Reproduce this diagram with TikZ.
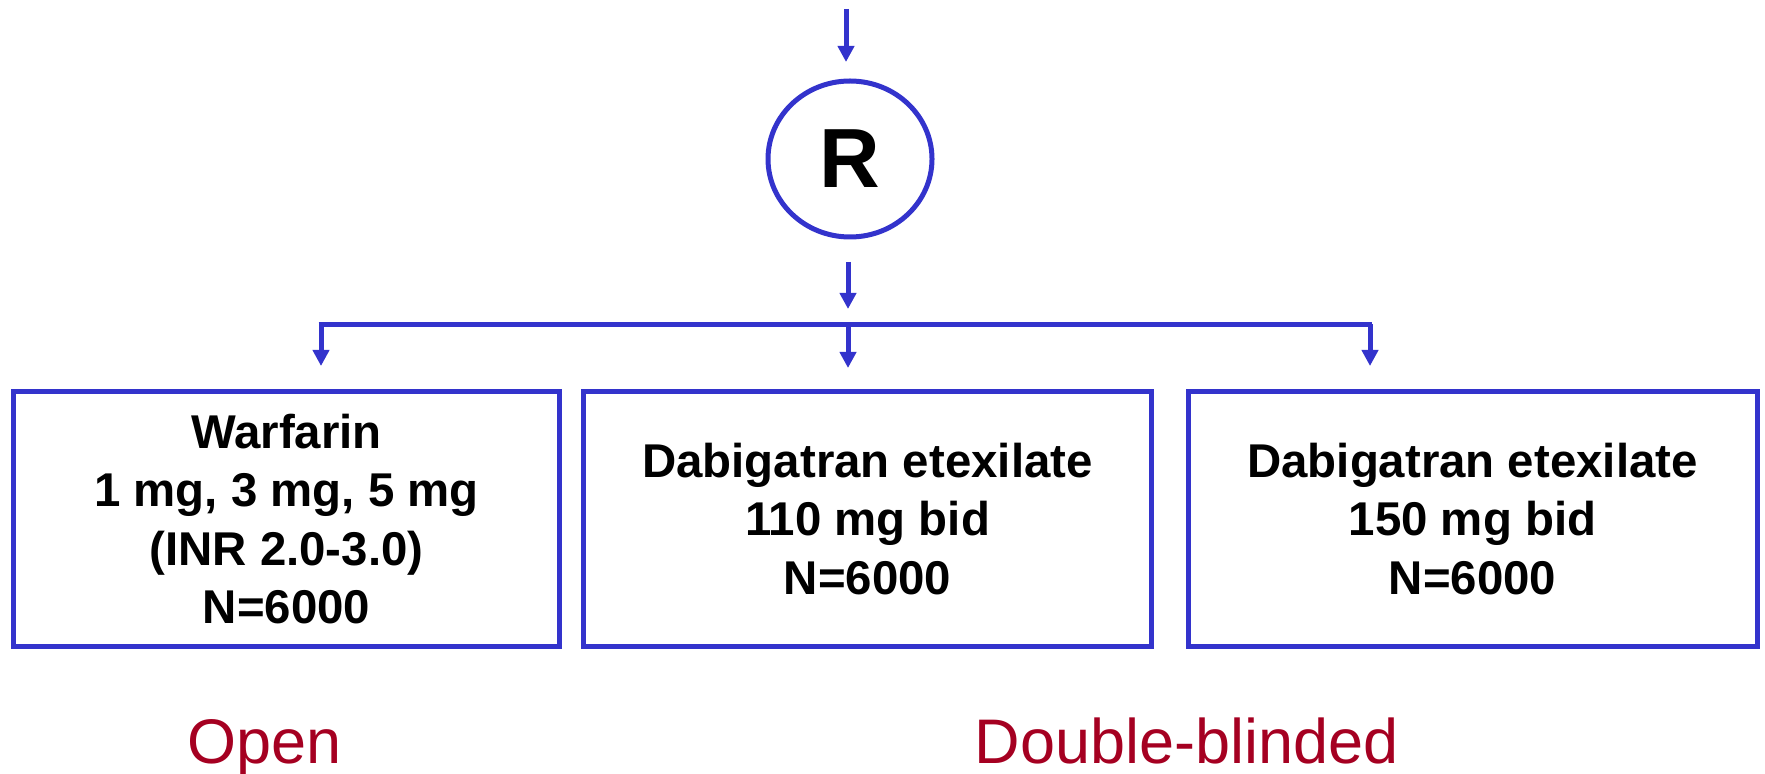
\documentclass[tikz,border=0pt]{standalone}
\usepackage{fontspec}
\setmainfont{Liberation Sans}
\usetikzlibrary{arrows.meta,shapes.geometric}
\definecolor{flowblue}{RGB}{51,51,204}
\definecolor{labelred}{RGB}{165,0,33}
\begin{document}
\begin{tikzpicture}[x=0.5pt,y=-0.5pt,
  armbox/.style={draw=flowblue,line width=2.5pt,rectangle,inner sep=0pt,outer sep=0pt,
    minimum height=127pt,align=center,font=\fontsize{23.7}{29.2}\selectfont\bfseries},
  arr/.style={draw=flowblue,line width=2.5pt,-{Triangle[width=8pt,length=8pt]}},
  bar/.style={draw=flowblue,line width=2.6pt},
  rand/.style={draw=flowblue,line width=2.5pt,ellipse,inner sep=0pt,
    minimum width=82pt,minimum height=78pt,font=\fontsize{42}{42}\selectfont\bfseries},
  tag/.style={text=labelred,anchor=base,inner sep=0pt,font=\fontsize{31.5}{31.5}\selectfont}
]
\useasboundingbox (0,0) rectangle (1765,774);
% randomisation
\node[rand] (R) at (850,159) {R};
\coordinate (in1) at (846,9);
\coordinate (in2) at (846,62);
\draw[arr] (in1) -- (in2);
\coordinate (out1) at (848,262);
\coordinate (out2) at (848,309);
\draw[arr] (out1) -- (out2);
% splitter
\coordinate (sL) at (321,324.5);
\coordinate (sM) at (848,324.5);
\coordinate (sR) at (1370,324.5);
\draw[bar] ([xshift=-1.2pt]sL) -- ([xshift=1.2pt]sR);
\coordinate (tL) at (321,366);
\coordinate (tM) at (848,368);
\coordinate (tR) at (1370,366);
\draw[arr] (sL) -- (tL);
\draw[arr] (sM) -- (tM);
\draw[arr] (sR) -- (tR);
% arms
\node[armbox,minimum width=273pt] (warf) at (286.5,519)
  {Warfarin\\1 mg, 3 mg, 5 mg\\(INR 2.0-3.0)\\N=6000};
\node[armbox,minimum width=284pt] (dab110) at (867.5,519)
  {Dabigatran etexilate\\110 mg bid\\N=6000};
\node[armbox,minimum width=284.5pt] (dab150) at (1472.5,519)
  {Dabigatran etexilate\\150 mg bid\\N=6000};
% labels
\node[tag] (open) at (264.5,763) {Open};
\node[tag] (blind) at (1186.5,763) {Double-blinded};
\end{tikzpicture}
\end{document}
